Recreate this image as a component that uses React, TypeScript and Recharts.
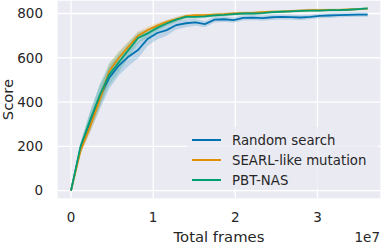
import { Area, CartesianGrid, ComposedChart, Line, XAxis, YAxis } from 'recharts';

// seaborn "colorblind" palette + darkgrid style
const COLOR = {
  blue: '#0173b2',
  orange: '#de8f05',
  green: '#029e73',
  bg: '#eaeaf2',
  text: '#262626',
} as const;

const FONT = '"DejaVu Sans", sans-serif';

// x positions (frames), one per evaluation
const FRAMES = [
  0, 1165000, 2330000, 3495000, 4660000, 5825000, 6990000, 8155000, 9320000, 10485000,
  11650000, 12815000, 13980000, 15145000, 16310000, 17475000, 18640000, 19805000,
  20970000, 22135000, 23300000, 24465000, 25630000, 26795000, 27960000, 29125000,
  30290000, 31455000, 32620000, 33785000, 34950000, 36115000,
];

const RANDOM = [
  0, 195, 310, 420, 510, 565, 605, 635, 685, 712, 725, 748, 756, 760, 752, 772, 774, 770,
  780, 781, 779, 783, 785, 784, 782, 785, 789, 791, 793, 794, 795, 795,
];
const RANDOM_SD = [
  0, 22, 45, 55, 50, 45, 42, 38, 32, 30, 25, 20, 18, 15, 14, 13, 12, 12, 12, 12, 12, 12,
  12, 12, 12, 11, 11, 11, 10, 10, 10, 10,
];

const SEARL = [
  0, 180, 290, 410, 540, 600, 650, 700, 725, 745, 762, 775, 788, 792, 793, 795, 797, 800,
  802, 803, 806, 808, 809, 811, 813, 815, 815, 816, 816, 818, 820, 822,
];
const SEARL_SD = [
  0, 15, 30, 35, 35, 30, 25, 20, 15, 12, 10, 10, 9, 8, 8, 8, 7, 7, 7, 7, 7, 6, 6, 6, 6, 6,
  6, 6, 5, 5, 5, 5,
];

const PBT = [
  0, 200, 320, 430, 525, 580, 635, 690, 710, 735, 755, 772, 785, 785, 787, 792, 794, 797,
  800, 800, 802, 806, 808, 810, 812, 813, 813, 815, 815, 817, 820, 823,
];
const PBT_SD = [
  0, 15, 40, 50, 50, 45, 35, 25, 20, 15, 12, 10, 9, 9, 8, 8, 8, 7, 7, 7, 7, 7, 6, 6, 6, 6,
  6, 6, 6, 5, 5, 5,
];

const X_TICKS = [0, 1e7, 2e7, 3e7];
const Y_TICKS = [0, 200, 400, 600, 800];

const SERIES = [
  { key: 'rs', name: 'Random search', color: COLOR.blue },
  { key: 'searl', name: 'SEARL-like mutation', color: COLOR.orange },
  { key: 'pbt', name: 'PBT-NAS', color: COLOR.green },
];

const data = FRAMES.map((x, i) => ({
  x,
  rs: RANDOM[i],
  rsBand: [RANDOM[i] - RANDOM_SD[i], RANDOM[i] + RANDOM_SD[i]],
  searl: SEARL[i],
  searlBand: [SEARL[i] - SEARL_SD[i], SEARL[i] + SEARL_SD[i]],
  pbt: PBT[i],
  pbtBand: [PBT[i] - PBT_SD[i], PBT[i] + PBT_SD[i]],
}));

const tickStyle = { fill: COLOR.text, fontSize: 13.5, fontFamily: FONT };

export default function App() {
  return (
    <div style={{ position: 'relative', width: 382, height: 244, fontFamily: FONT }}>
      <style>{'body{margin:0}'}</style>
      <ComposedChart
        width={382}
        height={244}
        data={data}
        margin={{ top: 0, right: 1, bottom: 0, left: 0 }}
      >
        <CartesianGrid fill={COLOR.bg} stroke="#ffffff" strokeWidth={1.3} />
        <XAxis
          dataKey="x"
          type="number"
          domain={[-1707000, 37740000]}
          ticks={X_TICKS}
          tickFormatter={(v: number) => String(v / 1e7)}
          axisLine={false}
          tickLine={false}
          tickSize={0}
          tickMargin={13}
          tick={tickStyle}
          height={45}
          label={{
            content: ({ viewBox }: any) => (
              <g fontFamily={FONT} fill={COLOR.text}>
                <text
                  x={viewBox.x + viewBox.width / 2}
                  y={viewBox.y + viewBox.height - 2}
                  textAnchor="middle"
                  fontSize={14.8}
                >
                  Total frames
                </text>
                <text
                  x={viewBox.x + viewBox.width - 1}
                  y={viewBox.y + viewBox.height - 2}
                  textAnchor="end"
                  fontSize={13.5}
                >
                  1e7
                </text>
              </g>
            ),
          }}
        />
        <YAxis
          type="number"
          domain={[-38, 861]}
          ticks={Y_TICKS}
          axisLine={false}
          tickLine={false}
          tickSize={0}
          tickMargin={14}
          tick={tickStyle}
          width={57}
          label={{
            content: ({ viewBox }: any) => (
              <text
                x={13}
                y={viewBox.y + viewBox.height / 2}
                transform={`rotate(-90 13 ${viewBox.y + viewBox.height / 2})`}
                textAnchor="middle"
                fontSize={14.8}
                fontFamily={FONT}
                fill={COLOR.text}
              >
                Score
              </text>
            ),
          }}
        />
        {SERIES.map((s) => (
          <Area
            key={`${s.key}Band`}
            dataKey={`${s.key}Band`}
            stroke="none"
            fill={s.color}
            fillOpacity={0.2}
            isAnimationActive={false}
            activeDot={false}
          />
        ))}
        {SERIES.map((s) => (
          <Line
            key={s.key}
            dataKey={s.key}
            stroke={s.color}
            strokeWidth={1.8}
            dot={false}
            activeDot={false}
            isAnimationActive={false}
          />
        ))}
      </ComposedChart>
      <div
        style={{
          position: 'absolute',
          left: 187,
          top: 127,
          width: 191,
          height: 62,
          background: 'rgba(234,234,242,0.8)',
          borderRadius: 3,
        }}
      >
        {SERIES.map((s, i) => (
          <div
            key={s.key}
            style={{
              position: 'absolute',
              left: 5,
              top: 4 + i * 20,
              height: 18,
              display: 'flex',
              alignItems: 'center',
              whiteSpace: 'nowrap',
            }}
          >
            <span
              style={{ display: 'inline-block', width: 29, height: 2, background: s.color }}
            />
            <span style={{ marginLeft: 11, fontSize: 13.3, color: COLOR.text }}>{s.name}</span>
          </div>
        ))}
      </div>
    </div>
  );
}
